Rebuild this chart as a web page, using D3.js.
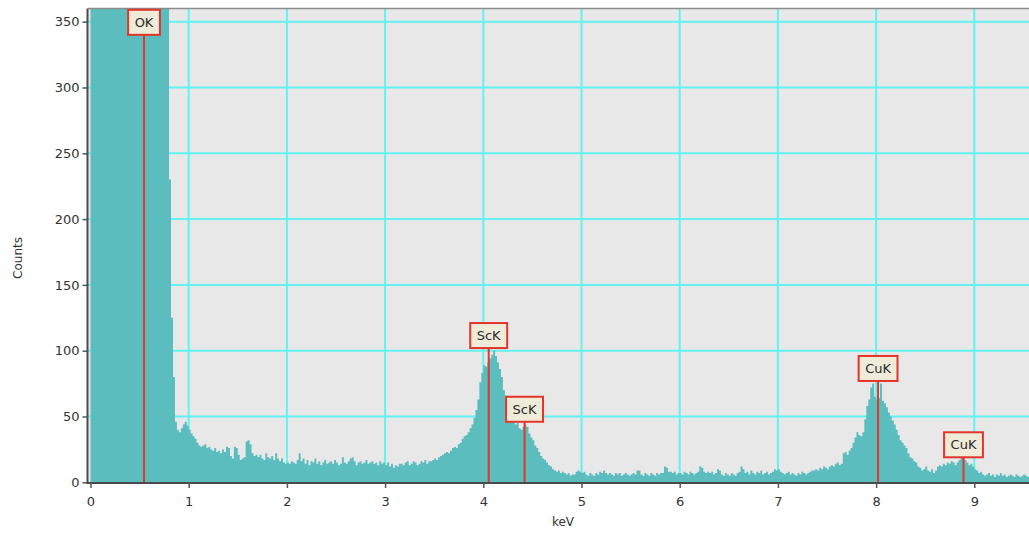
<!DOCTYPE html>
<html>
<head>
<meta charset="utf-8">
<script src="https://cdn.jsdelivr.net/npm/d3@7"></script>
<style>
  html, body { margin: 0; padding: 0; background: #fff; overflow: hidden; }
  text { font-family: "DejaVu Sans", Verdana, sans-serif; }
</style>
</head>
<body>
<svg id="chart" width="1029" height="535"></svg>
<script>
// EDS spectrum: counts per 20 eV channel, grouped by 1 keV bands.
const channelWidth = 0.02; // keV

const counts0to1 = [
  2650, 3120, 2410, 1780, 1320, 1040, 860, 760, 700, 660,
  640, 650, 670, 700, 740, 790, 860, 950, 1080, 1260,
  1520, 1900, 2420, 3050, 3560, 3810, 3620, 3110, 2450, 1830,
  1340, 990, 760, 620, 540, 490, 460, 440, 425, 410,
  230, 125, 80, 46, 40, 38, 41, 44, 46, 43
];
const counts1to2 = [
  40, 37, 35, 33, 30, 28, 27, 28, 29, 26,
  27, 25, 24, 26, 23, 24, 22, 25, 23, 27,
  26, 20, 18, 27, 26, 21, 17, 18, 19, 31,
  32, 29, 22, 20, 21, 19, 21, 18, 17, 22,
  19, 18, 20, 17, 22, 18, 16, 18, 15, 14
];
const counts2to3 = [
  15, 14, 16, 15, 14, 17, 22, 16, 18, 14,
  17, 13, 16, 15, 18, 14, 16, 13, 15, 17,
  14, 15, 16, 14, 17, 15, 13, 14, 19, 15,
  14, 16, 18, 19, 16, 13, 15, 16, 14, 15,
  17, 14, 15, 16, 14, 15, 13, 16, 14, 15
];
const counts3to4 = [
  13, 15, 12, 14, 11, 13, 12, 14, 14, 13,
  15, 16, 13, 14, 16, 15, 13, 14, 16, 15,
  17, 14, 16, 16, 17, 18, 17, 19, 20, 21,
  22, 23, 22, 24, 26, 27, 26, 29, 30, 33,
  35, 36, 38, 41, 44, 49, 55, 63, 76, 83
];
const counts4to5 = [
  89, 88, 91, 94, 97, 100, 96, 91, 86, 80,
  70, 66, 60, 54, 50, 46, 44, 45, 41, 40,
  42, 44, 42, 37, 34, 32, 28, 26, 23, 20,
  18, 17, 15, 13, 12, 10, 9, 8, 9, 7,
  8, 7, 6, 7, 5, 6, 6, 8, 9, 8
];
const counts5to6 = [
  7, 8, 6, 5, 7, 6, 5, 7, 6, 8,
  7, 9, 7, 6, 7, 6, 5, 7, 6, 7,
  5, 6, 7, 6, 5, 6, 7, 6, 9, 9,
  6, 5, 7, 6, 5, 7, 6, 5, 7, 6,
  7, 7, 12, 11, 8, 8, 7, 8, 6, 7
];
const counts6to7 = [
  7, 6, 8, 7, 6, 8, 7, 6, 7, 8,
  12, 11, 8, 7, 8, 7, 8, 6, 7, 10,
  9, 6, 5, 7, 6, 5, 7, 6, 5, 7,
  8, 12, 10, 7, 8, 6, 9, 7, 6, 8,
  7, 9, 6, 7, 8, 6, 7, 8, 10, 9
];
const counts7to8 = [
  10, 8, 7, 6, 7, 8, 6, 7, 6, 5,
  7, 6, 8, 7, 6, 7, 8, 9, 9, 10,
  9, 11, 10, 12, 11, 10, 12, 13, 12, 14,
  15, 13, 14, 22, 23, 21, 24, 26, 30, 34,
  38, 36, 35, 38, 48, 58, 63, 72, 75, 65
];
const counts8to9 = [
  63, 64, 75, 62, 60, 57, 53, 50, 47, 44,
  40, 36, 32, 30, 28, 26, 22, 19, 18, 16,
  15, 12, 11, 9, 10, 12, 9, 8, 10, 7,
  9, 12, 13, 12, 14, 13, 15, 14, 16, 15,
  13, 15, 17, 19, 18, 17, 15, 13, 14, 12
];
const counts9up = [
  10, 9, 7, 8, 6, 5, 6, 7, 5, 6,
  4, 6, 5, 7, 5, 6, 4, 5, 6, 5,
  4, 6, 5, 4, 5, 6, 5, 4
];

// Identified element lines
const markerLabels = ["OK", "ScK", "ScK", "CuK", "CuK"];
const markerEnergies = [0.545, 4.055, 4.42, 8.02, 8.89];
const markerHeights = [340, 102, 46, 77, 19];

// Axis ticks
const xTicks = [0, 1, 2, 3, 4, 5, 6, 7, 8, 9];
const yTicks = [0, 50, 100, 150, 200, 250, 300, 350];

const counts = [].concat(counts0to1, counts1to2, counts2to3, counts3to4,
  counts4to5, counts5to6, counts6to7, counts7to8, counts8to9, counts9up);

const svg = d3.select("#chart");
const plot = { left: 88, right: 1029, top: 8.5, bottom: 482.5 };

const x = d3.scaleLinear().domain([0, 10]).range([90.5, 1072.5]);
const y = d3.scaleLinear().domain([0, 360]).range([482.3, 8.5]);

svg.append("defs").append("clipPath").attr("id", "plotClip")
  .append("rect")
  .attr("x", plot.left).attr("y", plot.top)
  .attr("width", plot.right - plot.left).attr("height", plot.bottom - plot.top);

// plot background
svg.append("rect")
  .attr("x", plot.left).attr("y", plot.top)
  .attr("width", plot.right - plot.left).attr("height", plot.bottom - plot.top)
  .attr("fill", "#e8e8e8");

// grid
const grid = svg.append("g").attr("clip-path", "url(#plotClip)")
  .attr("stroke", "#62f2f2").attr("stroke-width", 2);
grid.selectAll(".vg").data(xTicks.filter(d => d > 0)).join("line")
  .attr("x1", d => x(d)).attr("x2", d => x(d))
  .attr("y1", plot.top).attr("y2", plot.bottom);
grid.selectAll(".hg").data(yTicks.filter(d => d > 0)).join("line")
  .attr("x1", plot.left).attr("x2", plot.right)
  .attr("y1", d => y(d)).attr("y2", d => y(d));

// spectrum
const pts = counts.map((c, i) => [i * channelWidth, c]);
pts.push([counts.length * channelWidth, counts[counts.length - 1]]);
const area = d3.area()
  .x(d => x(d[0]))
  .y0(y(0))
  .y1(d => y(Math.min(d[1], 400)))
  .curve(d3.curveStepAfter);
svg.append("g").attr("clip-path", "url(#plotClip)")
  .append("path").datum(pts)
  .attr("d", area)
  .attr("fill", "#5bbdbe");

// top frame line
svg.append("line")
  .attr("x1", plot.left).attr("x2", plot.right)
  .attr("y1", plot.top).attr("y2", plot.top)
  .attr("stroke", "#8c8c8c").attr("stroke-width", 1.5);

// element markers
const markers = svg.append("g");
markerLabels.forEach((lab, i) => {
  const mx = x(markerEnergies[i]);
  const by = y(markerHeights[i]);
  markers.append("line")
    .attr("x1", mx).attr("x2", mx)
    .attr("y1", by).attr("y2", y(0))
    .attr("stroke", "#e3352b").attr("stroke-width", 2);
  const g = markers.append("g");
  const r = g.append("rect");
  const t = g.append("text")
    .attr("x", mx).attr("y", by - 12.5)
    .attr("text-anchor", "middle").attr("dominant-baseline", "central")
    .attr("font-size", 13).attr("fill", "#2a2a2a")
    .text(lab);
  const w = t.node().getComputedTextLength() + 13;
  r.attr("x", mx - w / 2).attr("y", by - 25)
    .attr("width", w).attr("height", 25)
    .attr("fill", "#efebd9").attr("stroke", "#e3352b").attr("stroke-width", 2);
});

// axes
const yAxis = svg.append("g")
  .attr("transform", `translate(${plot.left - 0.5},0)`)
  .call(d3.axisLeft(y).tickValues(yTicks).tickSize(5).tickSizeOuter(0).tickPadding(3));
yAxis.select(".domain").attr("stroke", "#4a4a4a").attr("stroke-width", 2)
  .attr("d", `M0,${plot.top}V${plot.bottom + 1}`);

const xAxis = svg.append("g")
  .attr("transform", `translate(0,${plot.bottom + 0.5})`)
  .call(d3.axisBottom(x).tickValues(xTicks).tickSize(5).tickSizeOuter(0).tickPadding(9));
xAxis.select(".domain").attr("stroke", "#4a4a4a").attr("stroke-width", 2)
  .attr("d", `M${plot.left - 1.5},0H${plot.right}`);

[yAxis, xAxis].forEach(a => {
  a.selectAll(".tick line").attr("stroke", "#555").attr("stroke-width", 1.5);
  a.selectAll(".tick text").attr("font-size", 13).attr("fill", "#333")
    .attr("font-family", "'DejaVu Sans', Verdana, sans-serif");
});

// axis titles
svg.append("text")
  .attr("transform", "translate(18,258) rotate(-90)")
  .attr("text-anchor", "middle").attr("dominant-baseline", "central")
  .attr("font-size", 12).attr("fill", "#333")
  .text("Counts");
svg.append("text")
  .attr("x", 563).attr("y", 522)
  .attr("text-anchor", "middle").attr("dominant-baseline", "central")
  .attr("font-size", 12).attr("fill", "#333")
  .text("keV");
</script>
</body>
</html>
